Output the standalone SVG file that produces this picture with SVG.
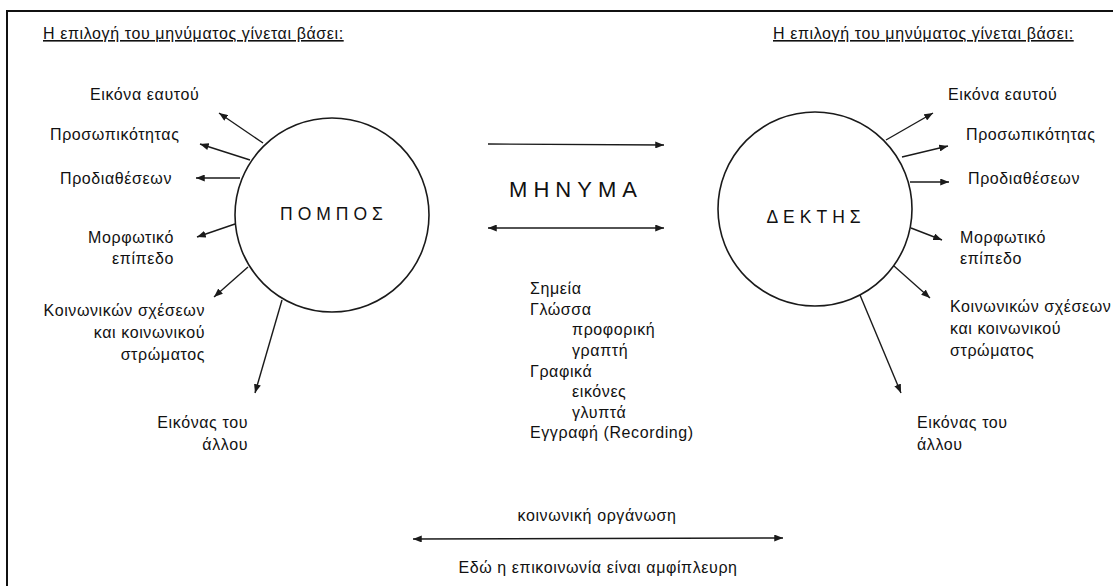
<svg xmlns="http://www.w3.org/2000/svg" width="1113" height="586" viewBox="0 0 1113 586">
  <style>
    text { font-family: "Liberation Sans", Arial, sans-serif; font-size: 16px; letter-spacing: 0.6px; fill: #111; }
    .head { text-decoration: underline; }
    .end { text-anchor: end; }
    .mid { text-anchor: middle; }
    .node-title { font-size: 17.5px; letter-spacing: 5px; text-anchor: middle; }
    .msg { font-size: 22px; letter-spacing: 6px; text-anchor: middle; }
    .ring { fill: #fff; stroke: #1a1a1a; stroke-width: 1.6; }
    .arrow { stroke: #1a1a1a; stroke-width: 1.4; fill: none; marker-end: url(#head); }
    .both { marker-start: url(#tail); }
  </style>
  <defs>
    <marker id="head" viewBox="0 0 10 8" refX="10" refY="4" markerWidth="9" markerHeight="7" markerUnits="userSpaceOnUse" orient="auto">
      <path d="M0,0 L10,4 L0,8 Z" fill="#1a1a1a"/>
    </marker>
    <marker id="tail" viewBox="0 0 10 8" refX="0" refY="4" markerWidth="9" markerHeight="7" markerUnits="userSpaceOnUse" orient="auto">
      <path d="M10,0 L0,4 L10,8 Z" fill="#1a1a1a"/>
    </marker>
  </defs>

  <rect width="1113" height="586" fill="#fff"/>
  <!-- outer frame -->
  <path d="M7,586 L7,11 L1113,11" fill="none" stroke="#111" stroke-width="2"/>

  <!-- headings -->
  <text class="head" x="43" y="39">Η επιλογή του μηνύματος γίνεται βάσει:</text>
  <text class="head" x="773" y="39">Η επιλογή του μηνύματος γίνεται βάσει:</text>

  <!-- connectors -->
  <g id="connectors">
    <line class="arrow" x1="263" y1="143" x2="219" y2="113"/>
    <line class="arrow" x1="250" y1="160" x2="200" y2="144"/>
    <line class="arrow" x1="240" y1="178" x2="196" y2="178"/>
    <line class="arrow" x1="235" y1="224" x2="197" y2="237"/>
    <line class="arrow" x1="248" y1="267" x2="214" y2="297"/>
    <line class="arrow" x1="282" y1="300" x2="255" y2="393"/>

    <line class="arrow" x1="886" y1="140" x2="933" y2="113"/>
    <line class="arrow" x1="902" y1="157" x2="948" y2="146"/>
    <line class="arrow" x1="910" y1="182" x2="949" y2="182"/>
    <line class="arrow" x1="911" y1="228" x2="942" y2="240"/>
    <line class="arrow" x1="894" y1="266" x2="930" y2="298"/>
    <line class="arrow" x1="860" y1="295" x2="901" y2="393"/>

    <line class="arrow" x1="488" y1="144" x2="664" y2="145"/>
    <line class="arrow both" x1="488" y1="228" x2="664" y2="228"/>
    <line class="arrow both" x1="413" y1="539" x2="783" y2="538"/>
  </g>

  <!-- sender -->
  <g id="sender">
    <circle class="ring" cx="332" cy="215" r="97"/>
    <text class="node-title" x="334" y="220">ΠΟΜΠΟΣ</text>
  </g>

  <!-- receiver -->
  <g id="receiver">
    <circle class="ring" cx="815" cy="209" r="97"/>
    <text class="node-title" x="816" y="223">ΔΕΚΤΗΣ</text>
  </g>

  <!-- sender factors -->
  <g id="sender-factors">
    <text x="90" y="100">Εικόνα εαυτού</text>
    <text x="50" y="140">Προσωπικότητας</text>
    <text x="60" y="184">Προδιαθέσεων</text>
    <text class="end" x="174" y="243">Μορφωτικό</text>
    <text class="end" x="174" y="264">επίπεδο</text>
    <text class="end" x="205" y="316">Κοινωνικών σχέσεων</text>
    <text class="end" x="205" y="338">και κοινωνικού</text>
    <text class="end" x="205" y="360">στρώματος</text>
    <text class="end" x="248" y="428">Εικόνας του</text>
    <text class="end" x="248" y="450">άλλου</text>
  </g>

  <!-- receiver factors -->
  <g id="receiver-factors">
    <text x="948" y="100">Εικόνα εαυτού</text>
    <text x="966" y="140">Προσωπικότητας</text>
    <text x="968" y="184">Προδιαθέσεων</text>
    <text x="960" y="243">Μορφωτικό</text>
    <text x="960" y="264">επίπεδο</text>
    <text x="950" y="312">Κοινωνικών σχέσεων</text>
    <text x="950" y="334">και κοινωνικού</text>
    <text x="950" y="356">στρώματος</text>
    <text x="917" y="428">Εικόνας του</text>
    <text x="917" y="450">άλλου</text>
  </g>

  <!-- message -->
  <g id="message">
    <text class="msg" x="576" y="197">ΜΗΝΥΜΑ</text>
    <text x="530" y="294">Σημεία</text>
    <text x="530" y="315">Γλώσσα</text>
    <text x="572" y="335">προφορική</text>
    <text x="572" y="356">γραπτή</text>
    <text x="530" y="377">Γραφικά</text>
    <text x="572" y="397">εικόνες</text>
    <text x="572" y="418">γλυπτά</text>
    <text x="530" y="438">Εγγραφή (Recording)</text>
  </g>

  <!-- social organisation -->
  <g id="social">
    <text class="mid" x="597" y="521">κοινωνική οργάνωση</text>
    <text class="mid" x="598" y="573">Εδώ η επικοινωνία είναι αμφίπλευρη</text>
  </g>
</svg>
